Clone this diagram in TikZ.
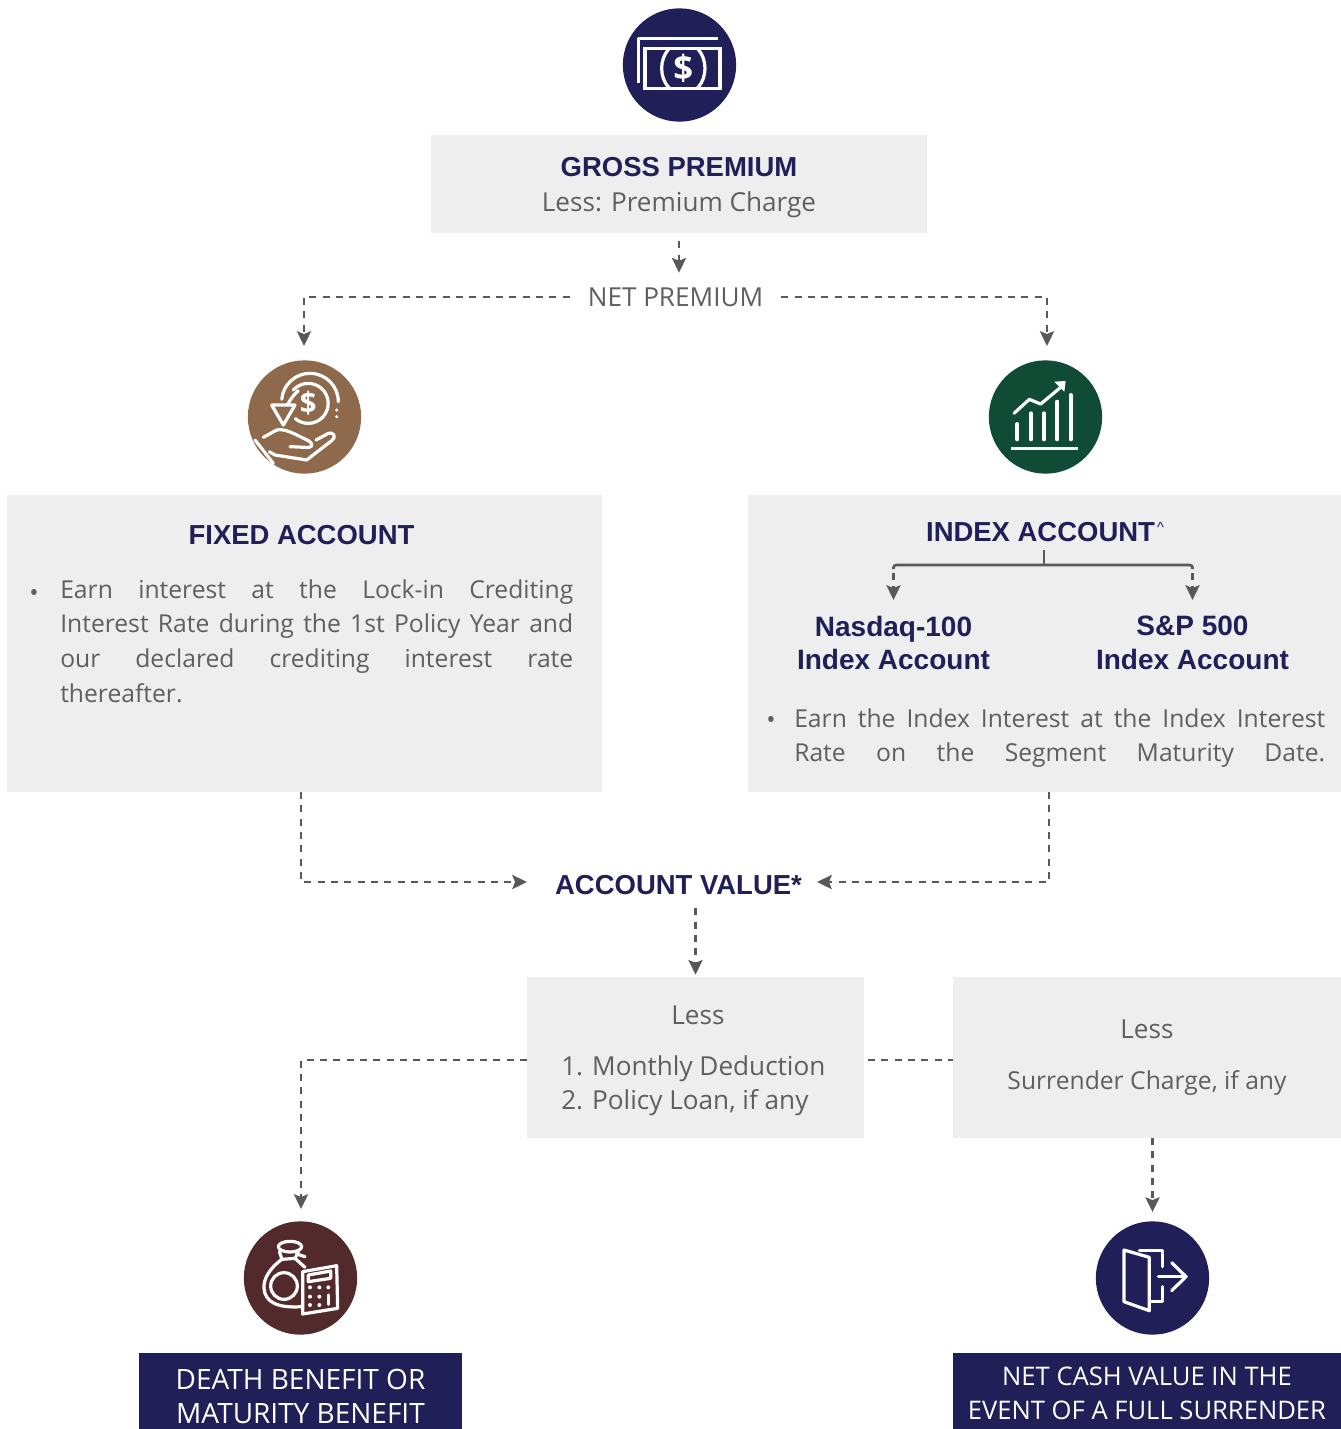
\documentclass[tikz,border=0pt]{standalone}
\usepackage{fontspec}
\setmainfont{Open Sans}
\newfontfamily\headfont{Liberation Sans}
\usetikzlibrary{arrows.meta,calc}
\definecolor{navy}{HTML}{201F58}
\definecolor{panel}{HTML}{EEEEEE}
\definecolor{linegray}{HTML}{595959}
\definecolor{bodygray}{HTML}{5F5F5F}
\definecolor{bronze}{HTML}{8E694C}
\definecolor{pine}{HTML}{0F4B35}
\definecolor{maroon}{HTML}{522A2B}
\begin{document}
\begin{tikzpicture}[x=0.75pt,y=-0.75pt,
    panel box/.style={fill=panel,inner sep=0pt},
    icon disc/.style={circle,inner sep=0pt,minimum size=85pt},
    banner/.style={fill=navy,inner sep=0pt},
    banner text/.style={text=white,inner sep=0pt,align=center},
    head text/.style={text=navy,align=center,inner sep=0pt,
        font=\headfont\bfseries\fontsize{20.6}{25}\selectfont},
    sub text/.style={head text,font=\headfont\bfseries\fontsize{21}{25}\selectfont},
    body text/.style={text=bodygray,inner sep=0pt,
        font=\fontsize{18.5}{26}\selectfont},
    big text/.style={body text,font=\fontsize{19.6}{26}\selectfont},
    flow/.style={draw=linegray,line width=2.1pt,dash pattern=on 5.2pt off 4.8pt,
        -{Stealth[length=11pt,width=10.5pt,inset=2pt]}},
    plain flow/.style={draw=linegray,line width=2.1pt,dash pattern=on 5.2pt off 4.8pt},
    icon line/.style={draw=white,line width=2.4pt,line cap=round,line join=round}]
    \useasboundingbox (0,0) rectangle (1341,1429);

    % Panels
    \node[panel box,minimum width=372pt,minimum height=73.5pt] (gross) at (679,184) {};
    \node[panel box,minimum width=446.25pt,minimum height=222.75pt] (fixed) at (304.5,643.5) {};
    \node[panel box,minimum width=444.75pt,minimum height=222.75pt] (index) at (1044.5,643.5) {};
    \node[panel box,minimum width=252.75pt,minimum height=120.75pt] (less) at (695.5,1057.5) {};
    \node[panel box,minimum width=291pt,minimum height=120.75pt] (surrender) at (1147,1057.5) {};
    \node[banner,minimum width=242.25pt,minimum height=57pt] (deathbanner) at (300.5,1391) {};
    \node[banner,minimum width=291pt,minimum height=57pt] (exitbanner) at (1147,1391) {};

    % Icon discs
    \node[icon disc,fill=navy] (premicon) at (679.5,65) {};
    \node[icon disc,fill=bronze] (fixedicon) at (304.5,417) {};
    \node[icon disc,fill=pine] (indexicon) at (1045.5,417) {};
    \node[icon disc,fill=maroon] (deathicon) at (300.5,1278) {};
    \node[icon disc,fill=navy] (exiticon) at (1152.5,1278) {};

    % Texts
    \node[head text] at (679,167) {GROSS PREMIUM};
    \node[big text] at (679,205) {Less: Premium Charge};
    \node[big text,minimum width=158.25pt,minimum height=36pt] (netprem) at (675.5,297) {NET PREMIUM};
    \node[head text] at (301.5,535) {FIXED ACCOUNT};
    \node[body text] at (34,595) {•};
    \node[body text,anchor=north west,text width=384.75pt,align=justify] (fixedtext) at (60,579)
        {Earn interest at the Lock-in Crediting\linebreak
         Interest Rate during the 1st Policy Year and\linebreak
         our declared crediting interest rate\linebreak
         thereafter.};
    \node[head text,minimum height=27pt] (indextitle) at (1045,532)
        {INDEX ACCOUNT\kern1.5pt\raisebox{7pt}{\fontsize{11}{11}\selectfont\mdseries\^{}}};
    \node[sub text] (nasdaq) at (893.5,643) {Nasdaq-100\\Index Account};
    \node[sub text] (spfive) at (1192.5,643) {S\&P 500\\Index Account};
    \node[body text] at (771,722) {•};
    \node[body text,anchor=north west,text width=398.25pt,align=justify] (indextext) at (794,708)
        {Earn the Index Interest at the Index Interest\linebreak
         Rate on the Segment Maturity Date.\linebreak};
    \node[head text,minimum width=207pt,minimum height=34.5pt] (accval) at (678.5,885) {ACCOUNT VALUE*};
    \node[big text] at (698,1015) {Less};
    \node[big text,anchor=north west,align=left] (lesslist) at (561,1055)
        {1. Monthly Deduction\\2. Policy Loan, if any};
    \node[big text] at (1147,1029) {Less};
    \node[body text] at (1147,1083) {Surrender Charge, if any};
    \node[banner text,font=\fontsize{21}{25.5}\selectfont] at (300.5,1396)
        {DEATH BENEFIT OR\\MATURITY BENEFIT};
    \node[banner text,font=\fontsize{19.2}{25.5}\selectfont] at (1147,1393)
        {NET CASH VALUE IN THE\\EVENT OF A FULL SURRENDER};

    % Free ends of the connectors
    \coordinate (fixedin) at (304,346);
    \coordinate (indexin) at (1047,346);
    \coordinate (fixedout) at (301,792);
    \coordinate (indexout) at (1049,792);
    \coordinate (accleft) at (527,882);
    \coordinate (accright) at (817,882);
    \coordinate (lessleft) at (527,1060);
    \coordinate (lessright) at (868,1060);
    \coordinate (surrleft) at (953,1060);
    \coordinate (surrout) at (1152.5,1138);
    \coordinate (deathin) at (301,1209);
    \coordinate (indexfork) at (1044,565);

    % Connectors
    \draw[flow,shorten <=6pt] (gross.south) -- (gross.south |- netprem.north);
    \draw[flow] (netprem.west) -| (fixedin);
    \draw[flow] (netprem.east) -| (indexin);
    \draw[flow] (fixedout) |- (accleft);
    \draw[flow] (indexout) |- (accright);
    \draw[flow,shorten >=1.5pt] (accval.south -| less.north) -- (less.north);
    \draw[flow] (lessleft) -| (deathin);
    \draw[plain flow] (lessright) -- (surrleft);
    \draw[flow,shorten >=6.75pt] (surrout) -- (exiticon.north);
    \draw[linegray,line width=2pt] (indextitle.south -| indexfork) -- (indexfork);
    \draw[linegray,line width=2pt,rounded corners=2pt]
        (indexfork -| nasdaq) ++(0,4) -- ++(0,-4) -- (indexfork -| spfive) -- ++(0,4);
    \draw[flow,shorten <=3pt] (indexfork -| nasdaq) ++(0,4) -- ++(0,31);
    \draw[flow,shorten <=3pt] (indexfork -| spfive) ++(0,4) -- ++(0,31);

    % Banknote icon
    \begin{scope}[shift={(600,0)},x=0.25pt,y=-0.25pt]
        \draw[icon line,line cap=butt] (115,250) -- (115,116) -- (355,116);
        \draw[icon line,line join=miter] (135,146) rectangle (360,265);
        \begin{scope}
            \clip (135,146) rectangle (360,265);
            \draw[icon line] (250,205) ellipse (65 and 78);
        \end{scope}
        \node[text=white,inner sep=0pt,font=\bfseries\fontsize{26}{26}\selectfont] at (250,205) {\$};
    \end{scope}

    % Hand and coin icon
    \begin{scope}[shift={(230,350)},x=0.25pt,y=-0.25pt]
        \draw[icon line] (325,155) arc[start angle=0,end angle=-175,radius=85];
        \draw[icon line] (190,120) arc[start angle=-138,end angle=130,radius=60];
        \draw[icon line] (205,122) .. controls (190,135) and (180,150) .. (172,165);
        \draw[icon line,fill=bronze] (125,165) -- (195,165) -- (160,225) -- cycle;
        \node[text=white,inner sep=0pt,font=\bfseries\fontsize{22}{22}\selectfont] at (235,160) {\$};
        \fill[white] (320,180) circle (5) (320,200) circle (5);
        \draw[icon line] (75,270) -- (130,340);
        \draw[icon line] (100,262) -- (140,240) .. controls (165,235) and (190,250) .. (235,272)
            .. controls (255,285) and (245,295) .. (225,292) -- (180,290);
        \draw[icon line] (258,270) -- (295,250) .. controls (312,245) and (320,262) .. (305,272)
            -- (230,330) -- (135,315) -- (118,305);
    \end{scope}

    % Growth chart icon
    \begin{scope}[shift={(970,350)},x=0.25pt,y=-0.25pt]
        \foreach \barx/\bartop in {142/222,183/190,222/190,262/155,302/135}
            \draw[icon line,line width=3pt] (\barx,\bartop) -- (\barx,268);
        \draw[icon line,line cap=butt] (122,296) -- (323,296);
        \draw[icon line] (132,190) -- (178,148) -- (212,162) -- (272,112);
        \fill[white] (253,95) -- (287,93) -- (283,125) -- cycle;
    \end{scope}

    % Money bag and calculator icon
    \begin{scope}[shift={(230,1210)},x=0.25pt,y=-0.25pt]
        \draw[icon line] (180,110) ellipse (35 and 16);
        \draw[icon line] (148,125) .. controls (150,135) and (155,138) .. (155,148)
            .. controls (120,175) and (100,205) .. (102,235)
            .. controls (105,275) and (140,295) .. (215,290);
        \draw[icon line] (205,125) -- (195,145) -- (225,172);
        \draw[icon line] (200,132) -- (225,140);
        \draw[icon line] (155,148) -- (195,145);
        \draw[icon line] (162,228) circle (40);
        \draw[icon line,fill=maroon] (218,185) -- (320,167) -- (323,295) -- (218,312) -- cycle;
        \draw[icon line] (235,195) -- (302,183) -- (302,205) -- (235,215) -- cycle;
        \foreach \keyx in {240,268,295}
            \fill[white] (\keyx,232) circle (6);
        \foreach \keyx in {240,268}
            \fill[white] (\keyx,260) circle (6) (\keyx,285) circle (6);
        \draw[icon line] (295,255) -- (295,283);
    \end{scope}

    % Door icon
    \begin{scope}[shift={(1080,1210)},x=0.25pt,y=-0.25pt]
        \draw[icon line] (178,122) -- (248,122) -- (248,170);
        \draw[icon line] (248,230) -- (248,275) -- (210,275);
        \draw[icon line] (132,120) -- (208,142) -- (208,302) -- (132,275) -- cycle;
        \draw[icon line] (235,200) -- (318,200);
        \draw[icon line] (275,158) -- (318,200) -- (275,242);
    \end{scope}
\end{tikzpicture}
\end{document}
